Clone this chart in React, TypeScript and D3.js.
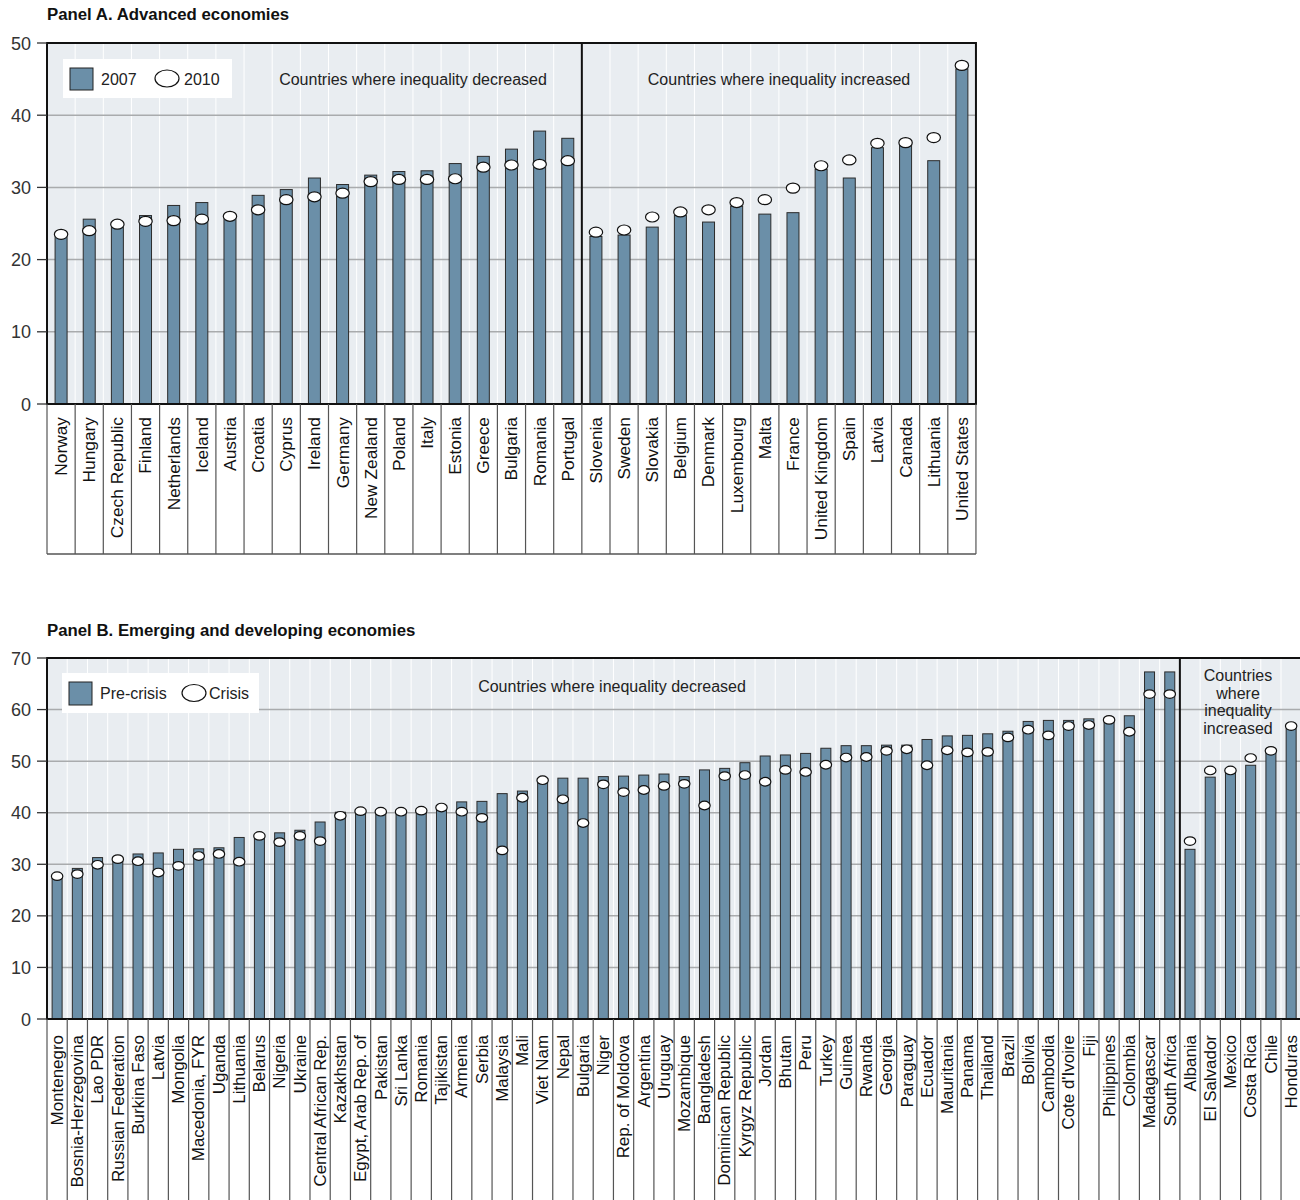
import React from 'react';
import * as d3 from 'd3';

// ---------- Panel A data ----------
const countriesA = [
  'Norway', 'Hungary', 'Czech Republic', 'Finland', 'Netherlands', 'Iceland', 'Austria', 'Croatia',
  'Cyprus', 'Ireland', 'Germany', 'New Zealand', 'Poland', 'Italy', 'Estonia', 'Greece', 'Bulgaria',
  'Romania', 'Portugal', 'Slovenia', 'Sweden', 'Slovakia', 'Belgium', 'Denmark', 'Luxembourg', 'Malta',
  'France', 'United Kingdom', 'Spain', 'Latvia', 'Canada', 'Lithuania', 'United States',
];
const gini2007 = [
  23.3, 25.6, 24.6, 26.1, 27.5, 27.9, 25.8, 28.9, 29.7, 31.3, 30.4, 31.7, 32.2, 32.3, 33.3, 34.3, 35.3,
  37.8, 36.8, 23.2, 23.4, 24.5, 26.1, 25.2, 27.4, 26.3, 26.5, 32.5, 31.3, 35.5, 35.9, 33.7, 46.4,
];
const gini2010 = [
  23.5, 24.0, 24.9, 25.3, 25.4, 25.6, 26.0, 26.9, 28.3, 28.7, 29.2, 30.8, 31.1, 31.1, 31.2, 32.8, 33.1,
  33.2, 33.7, 23.8, 24.1, 25.9, 26.6, 26.9, 27.9, 28.3, 29.9, 33.0, 33.8, 36.1, 36.2, 36.9, 46.9,
];
const lastDecreasedA = 'Portugal';
const ticksA = [0, 10, 20, 30, 40, 50];
const legendA = ['2007', '2010'];

// ---------- Panel B data ----------
const countriesB = [
  'Montenegro', 'Bosnia-Herzegovina', 'Lao PDR', 'Russian Federation', 'Burkina Faso', 'Latvia',
  'Mongolia', 'Macedonia, FYR', 'Uganda', 'Lithuania', 'Belarus', 'Nigeria', 'Ukraine',
  'Central African Rep.', 'Kazakhstan', 'Egypt, Arab Rep. of', 'Pakistan', 'Sri Lanka', 'Romania',
  'Tajikistan', 'Armenia', 'Serbia', 'Malaysia', 'Mali', 'Viet Nam', 'Nepal', 'Bulgaria', 'Niger',
  'Rep. of Moldova', 'Argentina', 'Uruguay', 'Mozambique', 'Bangladesh', 'Dominican Republic',
  'Kyrgyz Republic', 'Jordan', 'Bhutan', 'Peru', 'Turkey', 'Guinea', 'Rwanda', 'Georgia', 'Paraguay',
  'Ecuador', 'Mauritania', 'Panama', 'Thailand', 'Brazil', 'Bolivia', 'Cambodia', "Cote d'Ivoire",
  'Fiji', 'Philippines', 'Colombia', 'Madagascar', 'South Africa', 'Albania', 'El Salvador', 'Mexico',
  'Costa Rica', 'Chile', 'Honduras',
];
const preCrisis = [
  27.3, 29.2, 31.3, 30.6, 32.0, 32.2, 32.9, 33.0, 33.2, 35.2,
  35.0, 36.1, 36.6, 38.2, 40.1, 40.0, 40.0, 40.0, 40.2, 40.8,
  42.1, 42.2, 43.7, 44.2, 45.8, 46.7, 46.7, 47.0, 47.1, 47.3,
  47.5, 47.0, 48.3, 48.6, 49.7, 51.0, 51.2, 51.5, 52.5, 53.0,
  53.0, 53.1, 53.1, 54.2, 54.9, 55.0, 55.3, 55.8, 57.7, 57.9,
  57.9, 58.2, 57.6, 58.8, 67.3, 67.3,
  32.9, 46.9, 47.8, 49.2, 51.5, 56.3,
];
const crisis = [
  27.7, 28.1, 29.9, 31.0, 30.6, 28.4, 29.7, 31.6, 32.0, 30.5,
  35.5, 34.3, 35.5, 34.5, 39.4, 40.3, 40.2, 40.2, 40.4, 41.0,
  40.2, 39.0, 32.7, 42.9, 46.3, 42.6, 38.0, 45.5, 44.0, 44.4,
  45.2, 45.6, 41.4, 47.1, 47.3, 46.0, 48.3, 47.9, 49.3, 50.7,
  50.8, 52.0, 52.3, 49.2, 52.1, 51.7, 51.8, 54.6, 56.1, 55.0,
  56.8, 57.0, 58.0, 55.7, 63.0, 63.0,
  34.5, 48.2, 48.2, 50.6, 52.0, 56.8,
];
const lastDecreasedB = 'South Africa';
const ticksB = [0, 10, 20, 30, 40, 50, 60, 70];
const legendB = ['Pre-crisis', 'Crisis'];

const FONT = '"Liberation Sans", Arial, Helvetica, sans-serif';
const BG = '#e9edf1';
const BAR = '#6b8fa8';

type PanelProps = {
  title: string;
  titleY: number;
  countries: string[];
  bars: number[];
  dots: number[];
  lastDecreased: string;
  ticks: number[];
  left: number;
  top: number;
  bottom: number;
  bandW: number;
  labelBottom: number;
  drawLabelBottom: boolean;
  barW: number;
  rx: number;
  ry: number;
  labelSize: number;
  labelScale: number;
  labelGap: number;
  legend: string[];
  legendBox: { x: number; y: number; w: number; h: number; ellipseX: number; text2X: number };
  decText: { x: number; y: number };
  incText: { x: number; y: number; lines: string[]; lh: number };
};

function Panel(p: PanelProps) {
  const right = p.left + p.bandW * p.countries.length;
  const x = d3.scaleBand<string>().domain(p.countries).range([p.left, right]).padding(0);
  const yMax = p.ticks[p.ticks.length - 1];
  const y = d3.scaleLinear().domain([0, yMax]).range([p.bottom, p.top]);
  const divX = (x(p.lastDecreased) as number) + x.bandwidth();
  const boundaries = p.countries.map((c) => x(c) as number).concat([right]);
  const lb = p.legendBox;

  return (
    <g>
      <text x={p.left} y={p.titleY} fontFamily={FONT} fontWeight="bold" fontSize={16.8} fill="#111">
        {p.title}
      </text>
      {/* plot background */}
      <rect x={p.left} y={p.top} width={right - p.left} height={p.bottom - p.top} fill={BG} />
      {/* vertical white band lines */}
      {boundaries.map((bx, i) => (
        <line key={'v' + i} x1={bx} x2={bx} y1={p.top} y2={p.bottom} stroke="#ffffff" strokeWidth={1} />
      ))}
      {/* horizontal grid */}
      {p.ticks.filter((t) => t > 0 && t < yMax).map((t) => (
        <line key={'g' + t} x1={p.left} x2={right} y1={y(t)} y2={y(t)} stroke="#a9abad" strokeWidth={1.5} />
      ))}
      {/* legend */}
      <rect x={lb.x} y={lb.y} width={lb.w} height={lb.h} fill="#ffffff" />
      <rect x={lb.x + 7} y={lb.y + 9} width={23} height={lb.h - 17} fill={BAR} stroke="#222" strokeWidth={1} />
      <text x={lb.x + 38} y={lb.y + lb.h / 2 + 6} fontFamily={FONT} fontSize={16} fill="#222">{p.legend[0]}</text>
      <ellipse cx={lb.ellipseX} cy={lb.y + lb.h / 2} rx={12} ry={8.5} fill="#fff" stroke="#111" strokeWidth={1.2} />
      <text x={lb.text2X} y={lb.y + lb.h / 2 + 6} fontFamily={FONT} fontSize={16} fill="#222">{p.legend[1]}</text>
      {/* annotations */}
      <text x={p.decText.x} y={p.decText.y} textAnchor="middle" fontFamily={FONT} fontSize={16} fill="#222">
        Countries where inequality decreased
      </text>
      <text textAnchor="middle" fontFamily={FONT} fontSize={16} fill="#222">
        {p.incText.lines.map((l, i) => (
          <tspan key={i} x={p.incText.x} y={p.incText.y + i * p.incText.lh}>{l}</tspan>
        ))}
      </text>
      {/* bars */}
      {p.countries.map((c, i) => (
        <rect
          key={'b' + c}
          x={(x(c) as number) + x.bandwidth() / 2 - p.barW / 2}
          y={y(p.bars[i])}
          width={p.barW}
          height={p.bottom - y(p.bars[i])}
          fill={BAR}
          stroke="#2b2b2b"
          strokeWidth={1}
        />
      ))}
      {/* dots */}
      {p.countries.map((c, i) => (
        <ellipse
          key={'e' + c}
          cx={(x(c) as number) + x.bandwidth() / 2}
          cy={y(p.dots[i])}
          rx={p.rx}
          ry={p.ry}
          fill="#ffffff"
          stroke="#111"
          strokeWidth={1.2}
        />
      ))}
      {/* divider */}
      <line x1={divX} x2={divX} y1={p.top} y2={p.bottom} stroke="#111" strokeWidth={2} />
      {/* frame */}
      <rect x={p.left} y={p.top} width={right - p.left} height={p.bottom - p.top} fill="none" stroke="#111" strokeWidth={2} />
      {/* y ticks */}
      {p.ticks.map((t) => (
        <g key={'t' + t}>
          <line x1={p.left - 10} x2={p.left} y1={y(t)} y2={y(t)} stroke="#333" strokeWidth={1.3} />
          <text x={31} y={y(t) + 6.5} textAnchor="end" fontFamily={FONT} fontSize={18} fill="#333">
            {t}
          </text>
        </g>
      ))}
      {/* label area */}
      {boundaries.map((bx, i) => (
        <line key={'l' + i} x1={bx} x2={bx} y1={p.bottom} y2={p.labelBottom} stroke="#555" strokeWidth={1.2} />
      ))}
      {p.drawLabelBottom && (
        <line x1={p.left} x2={right} y1={p.labelBottom} y2={p.labelBottom} stroke="#555" strokeWidth={1.5} />
      )}
      {p.countries.map((c) => (
        <text
          key={'c' + c}
          transform={`translate(${(x(c) as number) + x.bandwidth() / 2},${p.bottom + p.labelGap}) rotate(-90) scale(${p.labelScale},1)`}
          textAnchor="end"
          dy="0.36em"
          fontFamily={FONT}
          fontSize={p.labelSize}
          fill="#111"
        >
          {c}
        </text>
      ))}
    </g>
  );
}

export default function App() {
  return (
    <svg
      width={1300}
      height={1200}
      style={{ position: 'absolute', left: 0, top: 0, background: '#fff' }}
    >
      <Panel
        title="Panel A. Advanced economies"
        titleY={20}
        countries={countriesA}
        bars={gini2007}
        dots={gini2010}
        lastDecreased={lastDecreasedA}
        ticks={ticksA}
        left={47}
        top={43}
        bottom={404}
        bandW={28.15}
        labelBottom={554}
        drawLabelBottom={true}
        barW={12}
        rx={6.7}
        ry={5}
        labelSize={16.5}
        labelScale={1.05}
        labelGap={13}
        legend={legendA}
        legendBox={{ x: 63, y: 59, w: 169, h: 39, ellipseX: 167, text2X: 184 }}
        decText={{ x: 413, y: 85 }}
        incText={{ x: 779, y: 85, lines: ['Countries where inequality increased'], lh: 0 }}
      />
      <Panel
        title="Panel B. Emerging and developing economies"
        titleY={636}
        countries={countriesB}
        bars={preCrisis}
        dots={crisis}
        lastDecreased={lastDecreasedB}
        ticks={ticksB}
        left={47}
        top={658}
        bottom={1019}
        bandW={20.23}
        labelBottom={1205}
        drawLabelBottom={false}
        barW={10}
        rx={5.7}
        ry={4.3}
        labelSize={16}
        labelScale={1.06}
        labelGap={16}
        legend={legendB}
        legendBox={{ x: 62, y: 673, w: 197, h: 40, ellipseX: 194, text2X: 209 }}
        decText={{ x: 612, y: 692 }}
        incText={{ x: 1238, y: 681, lines: ['Countries', 'where', 'inequality', 'increased'], lh: 17.5 }}
      />
    </svg>
  );
}
